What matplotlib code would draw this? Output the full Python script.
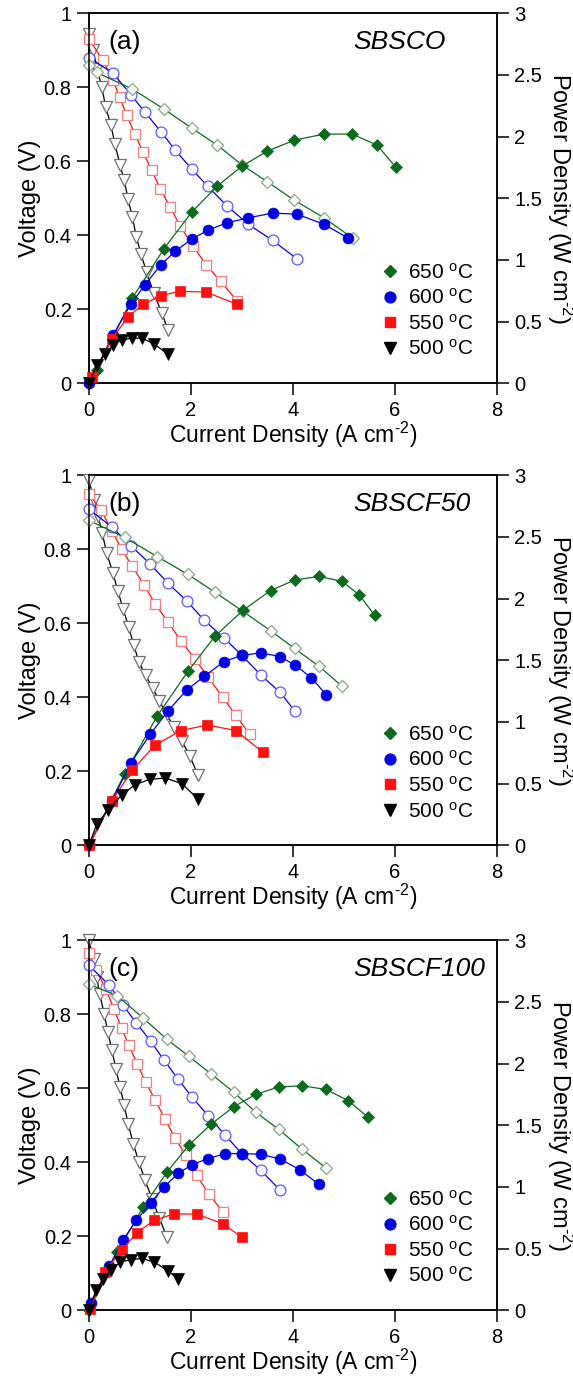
import matplotlib
matplotlib.use("Agg")
import matplotlib.pyplot as plt
from matplotlib.lines import Line2D
from matplotlib.ticker import FuncFormatter

plt.rcParams["font.family"] = ["Liberation Sans", "DejaVu Sans"]
plt.rcParams["mathtext.fontset"] = "custom"
plt.rcParams["mathtext.rm"] = "Liberation Sans"
plt.rcParams["mathtext.it"] = "Liberation Sans:italic"
plt.rcParams["mathtext.default"] = "regular"

# ─── DATA ────────────────────────────────────────────────────
temps = ["650", "600", "550", "500"]
panel_tags = ["(a)", "(b)", "(c)"]
samples = ["SBSCO", "SBSCF50", "SBSCF100"]
x_ticks = [0, 2, 4, 6, 8]
v_ticks = [0, 0.2, 0.4, 0.6, 0.8, 1.0]
p_ticks = [0, 0.5, 1.0, 1.5, 2.0, 2.5, 3.0]

# (a) SBSCO
a650_iv = [0, 0.15, 0.85, 1.47, 2.02, 2.52, 3.0, 3.49, 4.02, 4.61, 5.17]
a650_v = [0.86, 0.84, 0.795, 0.741, 0.689, 0.643, 0.59, 0.545, 0.495, 0.447, 0.392]
a650_ip = [0, 0.15, 0.85, 1.47, 2.02, 2.52, 3.0, 3.49, 4.02, 4.61, 5.16, 5.65, 6.02]
a650_p = [0, 0.11, 0.69, 1.09, 1.39, 1.60, 1.76, 1.88, 1.97, 2.02, 2.02, 1.93, 1.75]
a600_iv = [0, 0.47, 0.82, 1.1, 1.41, 1.69, 2.02, 2.33, 2.7, 3.12, 3.6, 4.08]
a600_v = [0.88, 0.838, 0.78, 0.732, 0.68, 0.63, 0.578, 0.532, 0.48, 0.43, 0.386, 0.336]
a600_ip = [0, 0.47, 0.82, 1.1, 1.41, 1.69, 2.02, 2.33, 2.7, 3.12, 3.6, 4.08, 4.6, 5.07]
a600_p = [0, 0.39, 0.64, 0.80, 0.96, 1.07, 1.17, 1.24, 1.30, 1.34, 1.38, 1.37, 1.29, 1.18]
a550_iv = [0, 0.27, 0.47, 0.6, 0.74, 0.9, 1.06, 1.23, 1.4, 1.59, 1.79, 2.03, 2.3, 2.58, 2.9]
a550_v = [0.93, 0.873, 0.82, 0.773, 0.724, 0.673, 0.624, 0.575, 0.525, 0.476, 0.425, 0.372, 0.32, 0.275, 0.223]
a550_ip = [0.06, 0.45, 0.76, 1.06, 1.41, 1.78, 2.29, 2.9]
a550_p = [0.05, 0.36, 0.535, 0.64, 0.71, 0.745, 0.74, 0.64]
a500_iv = [0, 0.08, 0.16, 0.25, 0.33, 0.43, 0.51, 0.61, 0.69, 0.77, 0.85, 0.93, 1.02, 1.13, 1.27, 1.43, 1.55]
a500_v = [0.945, 0.90, 0.85, 0.80, 0.746, 0.697, 0.646, 0.59, 0.548, 0.497, 0.449, 0.395, 0.349, 0.30, 0.243, 0.19, 0.143]
a500_ip = [0, 0.16, 0.31, 0.47, 0.64, 0.84, 1.04, 1.27, 1.55]
a500_p = [0, 0.15, 0.235, 0.31, 0.35, 0.365, 0.365, 0.32, 0.235]

# (b) SBSCF50
b650_iv = [0, 0.7, 1.34, 1.94, 2.47, 3.02, 3.56, 4.03, 4.51, 4.96]
b650_v = [0.878, 0.832, 0.78, 0.732, 0.684, 0.632, 0.58, 0.532, 0.484, 0.43]
b650_ip = [0, 0.7, 1.34, 1.94, 2.47, 3.02, 3.56, 4.03, 4.51, 4.96, 5.3, 5.6]
b650_p = [0, 0.58, 1.05, 1.41, 1.695, 1.905, 2.065, 2.15, 2.18, 2.14, 2.03, 1.865]
b600_iv = [0, 0.45, 0.82, 1.2, 1.55, 1.92, 2.26, 2.65, 3.0, 3.37, 3.75, 4.04]
b600_v = [0.908, 0.86, 0.81, 0.76, 0.708, 0.66, 0.608, 0.56, 0.513, 0.46, 0.413, 0.362]
b600_ip = [0, 0.45, 0.82, 1.2, 1.55, 1.92, 2.26, 2.65, 3.0, 3.37, 3.75, 4.04, 4.36, 4.65]
b600_p = [0, 0.36, 0.665, 0.90, 1.09, 1.26, 1.37, 1.49, 1.54, 1.56, 1.53, 1.46, 1.36, 1.22]
b550_iv = [0, 0.24, 0.45, 0.64, 0.85, 1.08, 1.3, 1.55, 1.81, 2.08, 2.33, 2.62, 2.88, 3.15]
b550_v = [0.95, 0.905, 0.85, 0.80, 0.754, 0.703, 0.652, 0.603, 0.551, 0.503, 0.456, 0.40, 0.351, 0.30]
b550_ip = [0, 0.45, 0.85, 1.29, 1.8, 2.32, 2.88, 3.41]
b550_p = [0, 0.36, 0.61, 0.81, 0.93, 0.975, 0.93, 0.754]
b500_iv = [0, 0.1, 0.18, 0.26, 0.35, 0.47, 0.57, 0.67, 0.78, 0.88, 0.98, 1.11, 1.25, 1.38, 1.52, 1.66, 1.82, 1.98, 2.14]
b500_v = [0.986, 0.932, 0.889, 0.843, 0.789, 0.735, 0.686, 0.638, 0.589, 0.54, 0.495, 0.46, 0.425, 0.39, 0.355, 0.32, 0.283, 0.24, 0.189]
b500_ip = [0, 0.15, 0.38, 0.65, 0.9, 1.19, 1.5, 1.82, 2.14]
b500_p = [0, 0.17, 0.29, 0.41, 0.49, 0.535, 0.545, 0.50, 0.375]

# (c) SBSCF100
c650_iv = [0, 0.55, 1.06, 1.53, 1.96, 2.4, 2.84, 3.27, 3.72, 4.18, 4.65]
c650_v = [0.881, 0.85, 0.79, 0.732, 0.686, 0.638, 0.589, 0.535, 0.489, 0.435, 0.384]
c650_ip = [0, 0.55, 1.06, 1.53, 1.96, 2.4, 2.84, 3.27, 3.72, 4.18, 4.65, 5.08, 5.47]
c650_p = [0, 0.47, 0.835, 1.12, 1.34, 1.51, 1.65, 1.75, 1.81, 1.82, 1.79, 1.70, 1.565]
c600_iv = [0, 0.4, 0.67, 0.93, 1.21, 1.47, 1.75, 2.02, 2.34, 2.67, 3.0, 3.37, 3.75]
c600_v = [0.932, 0.878, 0.824, 0.776, 0.727, 0.676, 0.624, 0.576, 0.525, 0.473, 0.423, 0.378, 0.324]
c600_ip = [0.03, 0.4, 0.67, 0.93, 1.21, 1.47, 1.75, 2.02, 2.34, 2.67, 3.0, 3.37, 3.75, 4.13, 4.51]
c600_p = [0.06, 0.36, 0.57, 0.73, 0.87, 1.0, 1.11, 1.18, 1.23, 1.27, 1.27, 1.265, 1.225, 1.14, 1.02]
c550_iv = [0, 0.14, 0.33, 0.49, 0.64, 0.78, 0.95, 1.11, 1.3, 1.49, 1.69, 1.9, 2.11, 2.35, 2.63]
c550_v = [0.965, 0.919, 0.868, 0.814, 0.762, 0.716, 0.665, 0.616, 0.568, 0.516, 0.465, 0.419, 0.365, 0.314, 0.265]
c550_ip = [0.02, 0.31, 0.64, 0.95, 1.28, 1.66, 2.11, 2.63, 3.0]
c550_p = [0.01, 0.31, 0.49, 0.63, 0.73, 0.78, 0.78, 0.70, 0.59]
c500_iv = [0, 0.09, 0.15, 0.21, 0.3, 0.37, 0.45, 0.53, 0.61, 0.69, 0.77, 0.87, 0.98, 1.1, 1.24, 1.38, 1.53]
c500_v = [1.0, 0.95, 0.90, 0.855, 0.80, 0.751, 0.703, 0.651, 0.603, 0.554, 0.503, 0.449, 0.40, 0.351, 0.30, 0.249, 0.197]
c500_ip = [0, 0.14, 0.28, 0.43, 0.61, 0.82, 1.04, 1.28, 1.55, 1.75]
c500_p = [0, 0.16, 0.25, 0.325, 0.39, 0.41, 0.42, 0.39, 0.32, 0.25]

panels = [
    [(a650_iv, a650_v, a650_ip, a650_p), (a600_iv, a600_v, a600_ip, a600_p),
     (a550_iv, a550_v, a550_ip, a550_p), (a500_iv, a500_v, a500_ip, a500_p)],
    [(b650_iv, b650_v, b650_ip, b650_p), (b600_iv, b600_v, b600_ip, b600_p),
     (b550_iv, b550_v, b550_ip, b550_p), (b500_iv, b500_v, b500_ip, b500_p)],
    [(c650_iv, c650_v, c650_ip, c650_p), (c600_iv, c600_v, c600_ip, c600_p),
     (c550_iv, c550_v, c550_ip, c550_p), (c500_iv, c500_v, c500_ip, c500_p)],
]

# ─── STYLE ───────────────────────────────────────────────────
line_colors = ["#0b6a1c", "#0000e0", "#ff1010", "#000000"]
open_edges = ["#8aa68a", "#5a5aff", "#f08080", "#707070"]
markers = ["D", "o", "s", "v"]
sizes_filled = [6.3, 7.8, 7.8, 8.4]
sizes_open = [6.0, 7.8, 7.6, 8.6]

# axes boxes in figure fraction: left, bottom, width, height
boxes = [
    (0.1553, 0.7215, 0.712, 0.2689),
    (0.1553, 0.3857, 0.712, 0.2689),
    (0.1553, 0.0478, 0.712, 0.2689),
]

fmt = FuncFormatter(lambda v, pos: f"{v:g}")
HY = "\u2010"  # short hyphen for the superscript, like the original
x_label = f"Current Density (A cm$^{{{HY}2}}$)"
p_label = f"Power Density (W cm$^{{{HY}2}}$)"

fig = plt.figure(figsize=(5.73, 13.76), dpi=100)

for k, series in enumerate(panels):
    ax = fig.add_axes(boxes[k])
    ax2 = ax.twinx()

    for j, (iv, v, ip, p) in enumerate(series):
        ax.plot(iv, v, color=line_colors[j], lw=0.9, marker=markers[j],
                ms=sizes_open[j], mfc="white", mec=open_edges[j], mew=0.9,
                clip_on=False, zorder=3 - 0.1 * j)
        ax2.plot(ip, p, color=line_colors[j], lw=0.9, marker=markers[j],
                 ms=sizes_filled[j], mfc=line_colors[j], mec=line_colors[j],
                 mew=0.5, clip_on=False, zorder=3 + 0.1 * j)

    ax.set_xlim(0, 8)
    ax.set_ylim(0, 1)
    ax2.set_ylim(0, 3)
    ax.set_xticks(x_ticks)
    ax.set_yticks(v_ticks)
    ax2.set_yticks(p_ticks)
    ax.xaxis.set_major_formatter(fmt)
    ax.yaxis.set_major_formatter(fmt)
    ax2.yaxis.set_major_formatter(fmt)

    for a in (ax, ax2):
        for s in a.spines.values():
            s.set_linewidth(1.1)
    ax.tick_params(axis="both", direction="out", length=8.5, width=1.1,
                   labelsize=14.5, pad=4)
    ax.tick_params(axis="x", pad=4)
    ax2.tick_params(axis="y", direction="out", length=8.5, width=1.1,
                    labelsize=14.5, pad=4)

    ax.set_xlabel(x_label, fontsize=16.5, labelpad=0)
    ax.set_ylabel("Voltage (V)", fontsize=17, labelpad=2)
    ax2.set_ylabel(p_label, fontsize=17, rotation=270, va="bottom",
                   labelpad=2)

    ax.text(0.047, 0.922, panel_tags[k], transform=ax.transAxes,
            fontsize=19, ha="left", va="center")
    ax.text(0.647, 0.922, samples[k], transform=ax.transAxes,
            fontsize=19, style="italic", ha="left", va="center")

    handles = [Line2D([], [], ls="none", marker=markers[j],
                      ms=sizes_filled[j], mfc=line_colors[j],
                      mec=line_colors[j]) for j in range(4)]
    labels = [f"{t} $^{{o}}$C" for t in temps]
    ax2.legend(handles, labels, loc="lower left",
               bbox_to_anchor=(0.712, 0.065), frameon=False, fontsize=15,
               handlelength=1.0, handletextpad=0.35, labelspacing=0.27,
               borderpad=0, borderaxespad=0)

fig.savefig("out.png", dpi=100)
